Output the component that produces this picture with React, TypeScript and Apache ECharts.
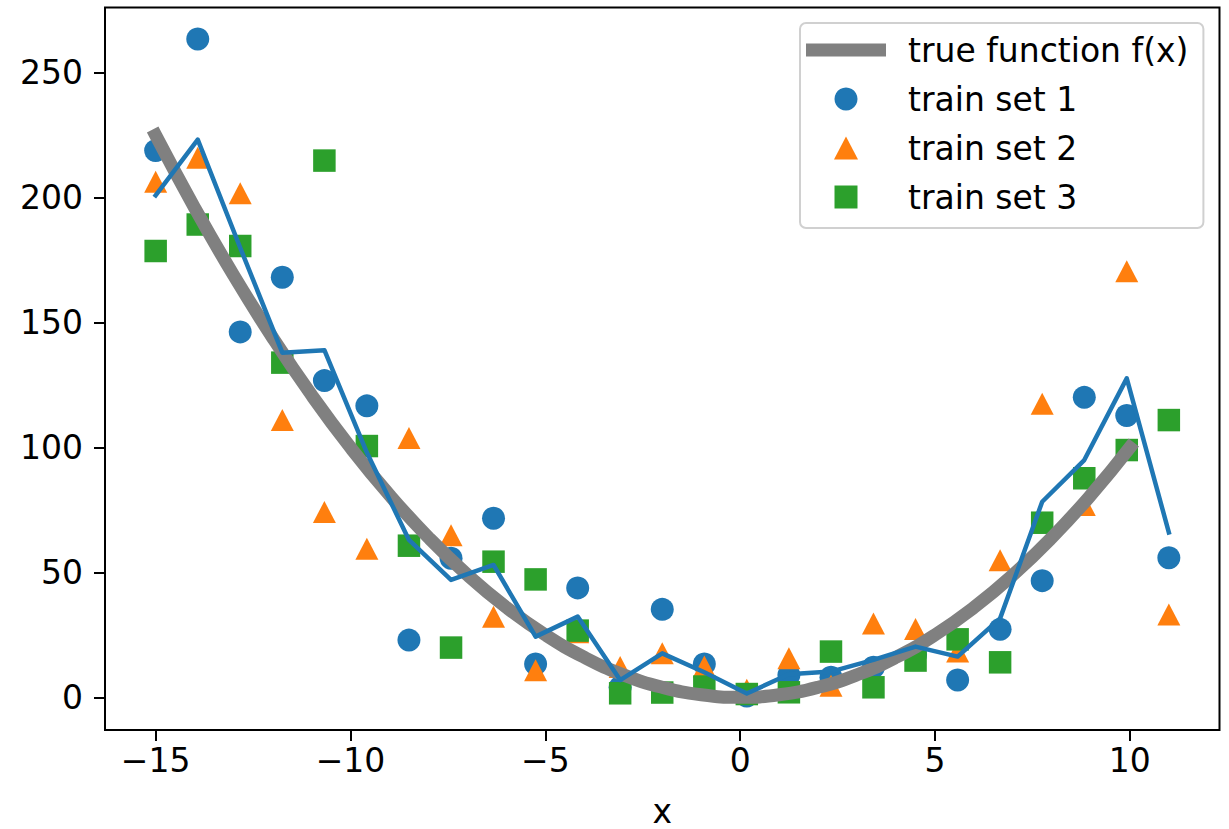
import React, { useEffect, useRef } from "react";
import * as echarts from "echarts";

// x positions shared by all training sets and the fitted line
const X_GRID = [-15, -13.92, -12.83, -11.75, -10.67, -9.58, -8.5, -7.42, -6.33, -5.25, -4.17, -3.08, -2, -0.92, 0.17, 1.25, 2.33, 3.42, 4.5, 5.58, 6.67, 7.75, 8.83, 9.92, 11];

const SET1 = [218.9, 263.6, 146.3, 168.2, 126.8, 116.7, 22.9, 55.7, 71.7, 13.3, 43.8, 4, 35.2, 13.3, 0.5, 8.9, 8, 12, 17, 6.9, 27.2, 46.7, 120.1, 112.8, 55.9];
const SET2 = [206.4, 216, 201.8, 111, 74.2, 59.5, 103.8, 64.9, 32.2, 10.8, 26, 12.1, 17.6, 12.3, 3, 15.6, 4.6, 29.5, 27.3, 18.3, 54.9, 117.5, 77, 170.6, 33.1];
const SET3 = [178.7, 189.3, 180.7, 134, 214.9, 100.6, 60.7, 19.9, 54.3, 47.2, 26.7, 1.6, 1.9, 4.3, 1.3, 2, 18.3, 4, 14.7, 23.2, 14, 69.9, 87.7, 99, 111];
const FIT1 = [201, 223.3, 180, 138, 139, 98, 63, 47, 53, 24.3, 32.3, 6.9, 17.6, 10, 1.5, 9.2, 10.3, 15, 20.3, 16.3, 31.6, 78.3, 95, 127.7, 66];

// true function f(x) read at integer x
const TRUE_X = [-15, -14, -13, -12, -11, -10, -9, -8, -7, -6, -5, -4, -3, -2, -1, 0, 1, 2, 3, 4, 5, 6, 7, 8, 9, 10];
const TRUE_Y = [225, 196, 169, 144, 121, 100, 81, 64, 49, 36, 25, 16, 9, 4, 1, 0, 1, 4, 9, 16, 25, 36, 49, 64, 81, 100];

const X_TICKS = [-15, -10, -5, 0, 5, 10];
const Y_TICKS = [0, 50, 100, 150, 200, 250];

const NAMES = ["true function f(x)", "train set 1", "train set 2", "train set 3"];

const FONT = "DejaVu Sans";
const FS = 33;

const zip = (xs: number[], ys: number[]) => xs.map((x, i) => [x, ys[i]]);

export default function App() {
  const ref = useRef<HTMLDivElement>(null);
  useEffect(() => {
    const chart = echarts.init(ref.current!, null, { renderer: "svg" });
    const fmt = (v: number) => (v < 0 ? "\u2212" + Math.abs(v) : String(v));
    chart.setOption({
      animation: false,
      backgroundColor: "#fff",
      grid: {
        left: 105,
        right: 9.5,
        top: 7.5,
        bottom: 99,
        outerBoundsMode: "none",
        containLabel: false,
        show: true,
        borderColor: "#000",
        borderWidth: 2,
        backgroundColor: "transparent",
      },
      legend: {
        orient: "vertical",
        left: 800,
        top: 23,
        data: [
          { name: NAMES[0], icon: "path://M0,0H80V13H0Z" },
          { name: NAMES[1], icon: "circle" },
          { name: NAMES[2], icon: "path://M11.5,0L23,22L0,22Z" },
          { name: NAMES[3], icon: "path://M0,0H10V10H0Z" },
        ],
        itemWidth: 80,
        itemHeight: 23,
        itemGap: 16,
        symbolKeepAspect: true,
        padding: [10.5, 15, 14.5, 6],
        backgroundColor: "rgba(255,255,255,0.8)",
        borderColor: "#d0d0d0",
        borderWidth: 2,
        borderRadius: 6,
        selectedMode: false,
        itemStyle: { borderWidth: 0 },
        textStyle: {
          fontFamily: FONT,
          fontSize: FS,
          color: "#000",
          lineHeight: 33,
          padding: [0, 0, 0, 17],
        },
      },
      xAxis: {
        type: "value",
        min: -16.3,
        max: 12.3,
        splitLine: { show: false },
        axisLine: { show: false, onZero: false },
        axisTick: {
          show: true,
          length: 11,
          customValues: X_TICKS,
          lineStyle: { color: "#000", width: 2 },
        },
        axisLabel: {
          customValues: X_TICKS,
          formatter: fmt,
          fontFamily: FONT,
          fontSize: FS,
          color: "#000",
          margin: 14,
        },
        name: "x",
        nameLocation: "middle",
        nameGap: 68,
        nameTextStyle: { fontFamily: FONT, fontSize: FS, lineHeight: 26, color: "#000" },
      },
      yAxis: {
        type: "value",
        min: -13.1,
        max: 276.2,
        splitLine: { show: false },
        axisLine: { show: false, onZero: false },
        axisTick: {
          show: true,
          length: 11,
          customValues: Y_TICKS,
          lineStyle: { color: "#000", width: 2 },
        },
        axisLabel: {
          customValues: Y_TICKS,
          formatter: fmt,
          fontFamily: FONT,
          fontSize: FS,
          color: "#000",
          margin: 22,
        },
      },
      series: [
        {
          name: "train set 1",
          type: "scatter",
          data: zip(X_GRID, SET1),
          symbol: "circle",
          symbolSize: 23,
          itemStyle: { color: "#1f77b4", opacity: 1 },
          z: 1,
        },
        {
          name: "train set 2",
          type: "scatter",
          data: zip(X_GRID, SET2),
          symbol: "triangle",
          symbolSize: [23, 22],
          itemStyle: { color: "#ff7f0e", opacity: 1 },
          z: 2,
        },
        {
          name: "train set 3",
          type: "scatter",
          data: zip(X_GRID, SET3),
          symbol: "rect",
          symbolSize: 22.5,
          itemStyle: { color: "#2ca02c", opacity: 1 },
          z: 3,
        },
        {
          name: "true function f(x)",
          type: "line",
          data: zip(TRUE_X, TRUE_Y),
          symbol: "none",
          showSymbol: false,
          smooth: true,
          lineStyle: { color: "#808080", width: 13, cap: "square", join: "round" },
          itemStyle: { color: "#808080" },
          z: 4,
        },
        {
          name: "fit set 1",
          type: "line",
          data: zip(X_GRID, FIT1),
          symbol: "none",
          showSymbol: false,
          lineStyle: { color: "#1f77b4", width: 4.5, cap: "square", join: "round" },
          itemStyle: { color: "#1f77b4" },
          z: 5,
        },
      ],
    });
    return () => chart.dispose();
  }, []);
  return (
    <div
      ref={ref}
      style={{ position: "fixed", left: 0, top: 0, width: 1229, height: 829, background: "#fff" }}
    />
  );
}
